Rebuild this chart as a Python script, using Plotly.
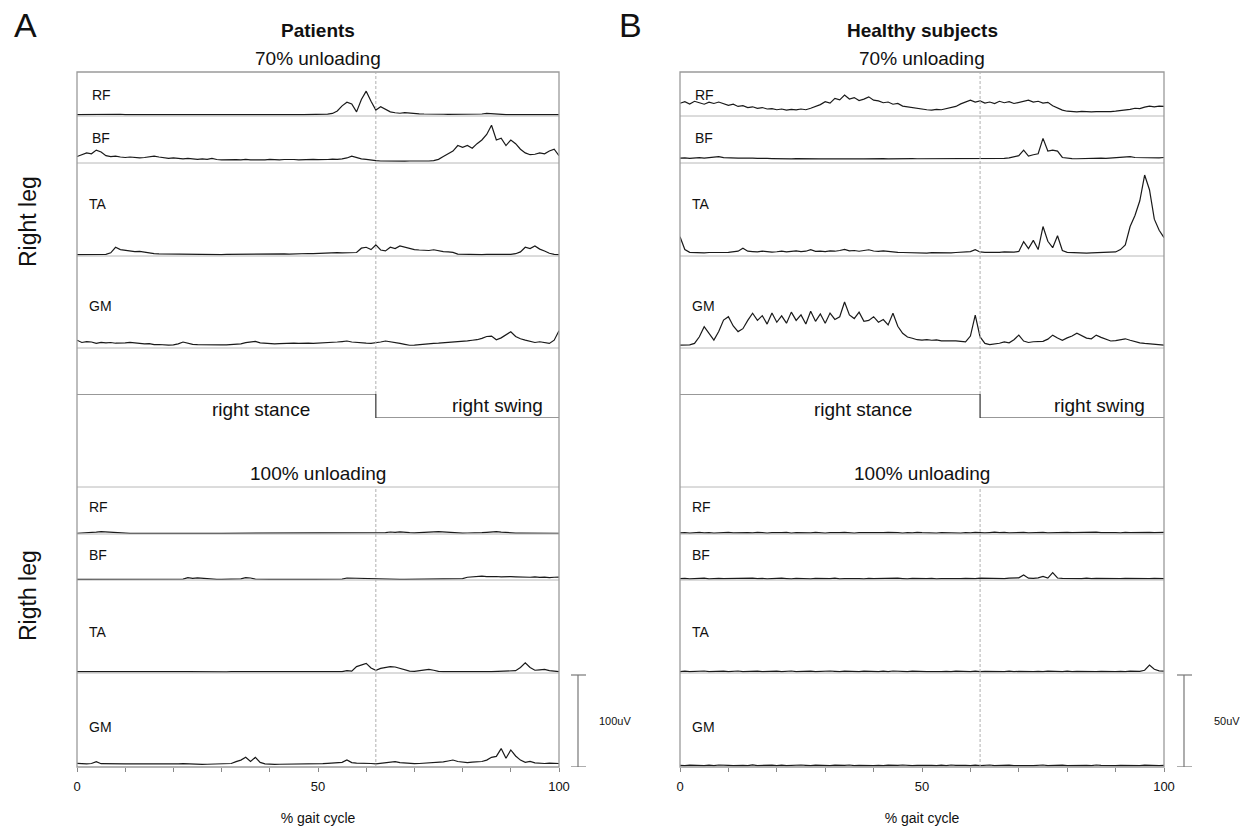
import plotly.graph_objects as go

W, H = 1243, 833
FONT = "Liberation Sans, Arial, sans-serif"

# ---------------- data ----------------
gait = list(range(101))  # % gait cycle
muscles = ["RF", "BF", "TA", "GM"]
toe_off = 62
stance_x = [0, 62, 62, 100]
stance_y = [1, 1, 0, 0]
x_tickvals = list(range(0, 101, 10))
x_ticktext = ["0", "", "", "", "", "50", "", "", "", "", "100"]

# Patients, 70% unloading (uV)
pat70_RF = [1.5,1.6,1.5,1.5,1.6,1.5,1.6,1.5,2.4,1.9,
            1.6,1.5,1.6,1.5,1.5,1.6,1.5,1.5,1.6,1.5,
            1.5,1.6,1.5,1.5,1.6,1.5,1.5,1.6,1.5,1.5,
            1.6,1.5,1.5,1.6,1.5,1.5,1.6,1.5,1.5,1.6,
            1.5,1.5,1.6,1.5,1.5,1.6,1.5,1.5,1.6,1.5,
            1.6,1.7,2.0,2.8,5.5,11.0,15.0,13.0,4.5,18.0,
            27.0,16.0,6.5,10.0,7.5,4.5,3.5,3.0,3.6,3.0,
            2.6,2.4,2.2,2.3,2.0,1.9,1.9,1.8,1.8,1.7,
            1.7,1.7,1.7,1.8,2.2,2.8,2.4,1.8,1.7,1.6,
            1.6,1.6,1.5,1.6,1.5,1.5,1.6,1.5,1.5,1.6,1.5]
pat70_BF = [7,9,11,10,14,12,8,7,7.5,6.5,
            6,6.5,6,5.5,6,6.5,7.5,6.5,5.5,5,
            5.5,5,4.5,5,4.5,4,4.5,4,5,3.8,
            3.5,3.8,3.3,3.6,3.3,4,3.5,3.4,3.8,3.5,
            4,3.6,3.5,3.8,4.2,3.8,3.5,3.9,3.6,4,
            3.7,3.5,3.8,4.2,3.9,4.5,5.5,7.5,6,4.5,
            4,3,2.5,2.2,2,2.2,2,2.1,2,2.2,
            2,2.1,2,2.2,2.5,4,7,10,13,19,
            17,19,16,21,25,31,41,25,27,19,
            25,21,15,11,9,9.5,11,10,13,15,8]
pat70_TA = [1.6,1.5,1.6,1.5,1.6,1.5,1.8,3.5,9.5,7.0,
            6.0,5.5,4.8,5.0,4.0,3.2,2.5,2.3,2.2,2.0,
            1.9,1.8,1.9,1.7,1.8,1.6,1.7,1.8,1.6,1.7,
            1.6,1.7,1.8,1.6,1.7,1.9,1.8,1.7,1.9,2.0,
            2.1,2.0,2.2,2.3,2.1,2.4,2.6,2.5,2.7,2.6,
            2.9,3.1,3.3,3.5,3.6,3.4,3.8,4.0,3.8,8.5,
            9.5,7.0,12.0,6.5,5.5,9.5,8.0,11.0,9.5,8.5,
            7.0,6.5,6.2,6.0,6.8,5.5,4.8,4.5,4.0,2.0,
            1.8,1.6,1.7,1.6,1.6,1.7,1.6,1.6,1.7,1.6,
            1.7,2.5,4.5,9.5,8.0,11.0,7.5,5.5,3.0,1.8,1.5]
pat70_GM = [8.5,6.0,7.0,6.5,5.0,6.2,5.5,6.0,5.2,5.0,
            5.6,6.2,5.4,5.0,4.5,4.8,3.6,3.8,3.4,3.2,
            3.5,4.5,6.5,5.0,4.0,3.6,3.4,3.3,3.5,3.2,
            3.4,3.3,3.6,3.5,4.5,5.8,6.5,7.2,5.5,5.0,
            4.8,4.5,4.8,5.0,5.5,5.2,5.0,5.4,5.2,5.0,
            5.2,5.5,5.8,6.0,6.5,7.0,7.6,6.5,5.8,5.5,
            5.2,5.0,5.5,6.5,7.6,7.0,5.8,5.0,4.0,3.0,
            3.2,3.8,4.2,4.5,5.0,5.2,5.5,5.8,6.5,7.2,
            7.5,7.8,8.4,9.0,10.5,12.5,13.0,9.0,11.0,14.0,
            17.7,12.5,10.0,8.5,7.5,6.0,6.8,5.5,5.0,8.5,18.8]

# Patients, 100% unloading (uV)
pat100_RF = [0.8,0.9,1.2,1.6,2.0,2.5,2.2,1.5,1.0,0.8,
             0.7,0.7,0.8,0.7,0.7,0.8,0.7,0.7,0.8,0.7,
             0.7,0.8,0.7,0.7,0.7,0.8,0.7,0.7,0.8,0.7,
             0.7,0.7,0.8,0.7,0.7,0.8,0.7,0.7,0.7,0.8,
             0.7,0.7,0.8,0.7,0.7,0.7,0.8,0.7,0.7,0.8,
             0.7,0.7,0.8,0.7,0.7,0.8,0.7,0.8,0.9,0.8,
             0.9,0.8,1.0,1.2,1.5,2.2,1.8,2.4,1.6,1.4,
             1.2,1.3,1.5,1.8,2.4,2.6,2.2,1.5,1.2,1.0,
             1.0,1.1,1.0,1.2,1.4,1.8,2.4,2.6,2.0,1.5,
             1.2,1.0,1.0,0.9,0.9,0.8,0.9,0.8,0.8,0.8,0.8]
pat100_BF = [0.7,0.7,0.7,0.8,0.7,0.7,0.7,0.8,0.7,0.7,
             0.7,0.8,0.7,0.7,0.7,0.7,0.8,0.7,0.7,0.7,
             0.7,0.8,1.0,2.5,1.8,2.4,2.0,0.9,0.7,0.7,
             0.7,0.7,0.8,0.7,1.2,2.5,2.2,1.0,0.7,0.7,
             0.7,0.7,0.8,0.7,0.7,0.7,0.8,0.7,0.7,0.7,
             0.7,0.8,0.7,0.7,0.8,1.0,2.2,2.0,2.5,1.8,
             2.2,1.5,1.0,0.8,0.7,0.7,0.8,0.7,0.7,0.7,
             0.8,0.7,0.7,0.7,0.8,0.7,0.7,0.8,0.7,0.8,
             1.5,3.0,3.4,3.8,4.2,3.6,4.0,3.8,3.5,3.8,
             3.6,3.4,3.2,3.6,3.0,3.4,2.8,3.2,2.6,3.0,3.2]
pat100_TA = [1.4,1.6,1.8,1.5,1.4,1.4,1.3,1.4,1.4,1.3,
             1.4,1.3,1.4,1.5,1.4,1.3,1.4,1.4,1.3,1.4,
             1.4,1.3,1.4,1.4,1.3,1.4,1.5,1.4,1.3,1.4,
             1.4,1.3,1.4,1.4,1.5,1.4,1.3,1.4,1.4,1.3,
             1.4,1.4,1.3,1.4,1.5,1.4,1.4,1.3,1.4,1.4,
             1.4,1.4,1.5,1.4,1.5,1.6,2.5,2.0,7.0,9.0,
             10.5,5.5,3.0,5.0,6.0,7.0,6.5,5.0,3.5,2.0,
             1.8,2.5,3.5,4.0,3.0,1.8,1.5,1.4,1.4,1.3,
             1.4,1.3,1.4,1.4,1.3,1.4,1.4,1.5,1.4,1.6,
             1.8,2.5,6.0,11.0,6.0,3.0,3.5,4.0,2.5,1.6,1.4]
pat100_GM = [4.0,3.5,3.5,3.8,5.8,3.6,3.4,3.3,3.5,3.3,
             3.4,3.3,3.2,3.4,3.3,3.2,3.4,3.5,3.3,3.2,
             3.2,3.4,3.6,3.3,3.0,3.0,2.9,3.0,3.0,3.1,
             3.0,3.2,3.8,5.8,7.5,10.5,6.0,10.5,5.0,3.5,
             3.0,2.9,3.0,3.0,3.1,3.0,3.2,3.4,3.6,3.5,
             3.8,3.6,4.0,4.2,4.5,5.0,7.6,4.8,4.2,3.8,
             3.6,3.8,3.5,4.0,4.5,5.0,5.8,4.8,4.2,3.8,
             3.6,3.8,4.0,4.4,4.6,5.0,5.5,6.5,7.6,6.0,
             5.0,4.8,5.2,5.5,6.0,7.5,10.5,11.5,20.0,9.5,
             18.5,12.0,7.5,5.0,6.0,4.5,4.0,3.8,4.2,3.6,3.8]

# Healthy subjects, 70% unloading (uV)
hea70_RF = [6.9,7.8,6.5,8.0,7.2,6.4,7.5,6.8,7.6,6.6,
            5.8,6.4,5.2,5.6,4.6,5.0,4.2,4.6,3.8,4.0,
            3.4,3.8,3.2,3.6,3.3,3.8,3.4,4.2,5.0,6.2,
            7.8,7.0,9.6,8.8,11.4,9.2,10.0,8.4,9.2,10.4,
            8.6,8.2,7.2,7.6,6.4,6.8,5.4,5.0,4.6,3.8,
            3.6,3.4,3.2,3.6,3.4,4.0,4.6,5.2,6.6,7.4,
            8.6,7.6,8.2,7.0,7.6,6.8,8.0,7.2,7.8,6.8,
            7.4,8.0,8.6,7.6,8.0,7.0,7.4,5.6,4.2,3.2,
            2.6,2.4,2.2,2.5,2.3,2.2,2.4,2.3,2.5,2.4,
            2.6,2.8,3.2,3.6,4.2,4.0,4.8,5.4,5.0,5.4,5.2]
hea70_BF = [2.6,2.8,2.5,2.7,2.9,2.6,2.8,3.0,3.5,2.9,
            2.7,2.5,2.7,2.6,2.4,2.6,2.5,2.3,2.5,2.4,
            2.3,2.5,2.4,2.2,2.4,2.3,2.2,2.4,2.3,2.2,
            2.2,2.4,2.3,2.2,2.3,2.2,2.4,2.3,2.2,2.3,
            2.2,2.3,2.4,2.2,2.3,2.4,2.3,2.2,2.4,2.3,
            2.3,2.4,2.3,2.5,2.4,2.3,2.5,2.4,2.6,2.5,
            2.6,2.5,2.7,2.6,2.5,2.7,2.6,2.5,2.8,3.2,
            4.0,7.0,3.8,4.5,5.0,13.4,6.5,7.0,6.5,3.0,
            2.6,2.4,2.3,2.4,2.3,2.5,2.4,2.6,2.5,2.7,
            2.8,3.0,3.2,3.5,3.0,2.9,2.8,3.0,2.9,2.8,3.0]
hea70_TA = [10.5,3.5,2.0,1.8,1.9,1.7,1.9,1.8,2.0,1.9,
            2.0,2.2,2.6,4.2,2.6,2.4,2.2,2.6,2.3,2.1,
            2.3,2.6,2.2,2.5,2.8,2.4,2.6,3.4,2.5,2.7,
            2.4,2.8,2.6,3.0,3.6,2.8,3.0,2.6,2.9,3.4,
            2.7,2.5,2.8,2.4,2.2,2.0,1.9,1.8,1.7,1.8,
            1.7,1.6,1.8,1.7,1.6,1.8,1.7,1.9,2.0,2.2,
            2.4,3.4,2.2,2.0,1.9,2.1,2.0,2.2,2.0,2.1,
            2.5,7.8,4.0,8.5,3.5,16.0,8.0,4.5,11.0,3.0,
            2.0,1.8,1.7,1.8,1.6,1.7,1.8,1.7,1.8,1.9,
            2.2,3.5,6.0,16.0,22.0,30.0,44.0,36.0,20.0,14.0,10.0]
hea70_GM = [1.6,1.8,1.7,2.5,6.1,11.6,8.0,4.3,9.0,15.2,
            17.0,12.0,8.9,10.5,15.0,18.9,15.0,17.6,13.0,19.0,
            14.0,17.5,13.5,19.5,15.0,18.0,13.0,20.0,14.5,18.5,
            13.5,19.0,15.5,17.0,25.0,18.0,16.0,19.5,14.5,15.0,
            17.0,14.0,15.5,12.5,18.9,11.8,8.0,6.0,5.3,4.5,
            4.3,4.6,4.2,4.4,3.9,4.0,3.7,3.9,3.6,3.3,
            6.5,17.9,6.0,2.5,1.8,2.0,2.6,3.3,2.8,4.5,
            7.0,3.8,3.0,3.4,3.3,3.6,4.8,7.0,5.4,4.2,
            5.5,6.5,8.0,6.5,5.4,5.0,7.0,5.8,4.6,3.8,
            4.0,4.4,5.0,4.2,3.3,2.8,2.5,2.2,1.8,1.7,1.6]

# Healthy subjects, 100% unloading (uV)
hea100_RF = [0.6,0.8,0.5,0.7,0.9,0.6,0.8,0.5,0.7,0.6,
             0.9,0.6,0.7,0.5,0.8,0.6,0.9,0.7,0.5,0.8,
             0.6,0.7,0.9,0.5,0.7,0.6,0.8,0.6,0.9,0.7,
             0.5,0.8,0.6,0.7,0.9,0.6,0.5,0.8,0.7,0.6,
             0.8,0.5,0.7,0.9,0.6,0.7,0.5,0.8,0.6,0.9,
             0.7,0.6,0.8,0.5,0.7,0.6,0.9,0.7,0.5,0.8,
             0.6,0.9,0.7,0.6,0.8,1.0,0.7,0.9,0.6,0.8,
             0.7,0.9,0.6,0.8,0.7,0.9,0.6,0.7,0.8,0.6,
             0.9,0.7,0.8,0.6,0.9,0.7,1.0,0.8,0.9,0.7,
             0.8,0.6,0.9,0.7,0.8,1.0,0.7,0.9,0.8,1.0,0.9]
hea100_BF = [0.7,0.9,0.6,0.8,0.7,1.0,0.6,0.8,0.9,0.7,
             0.8,0.6,0.9,0.7,0.8,1.0,0.7,0.9,0.6,0.8,
             0.7,1.0,0.8,0.6,0.9,0.7,0.8,0.6,0.9,0.7,
             0.8,0.7,1.0,0.6,0.8,0.9,0.7,0.8,0.6,0.9,
             0.7,0.8,0.6,0.9,0.7,1.0,0.8,0.6,0.9,0.7,
             0.8,0.7,0.9,0.6,0.8,0.7,1.0,0.8,0.7,0.9,
             0.7,0.8,1.0,0.9,0.7,0.8,0.9,0.7,1.0,0.9,
             1.2,2.7,1.0,0.9,1.2,2.0,1.0,4.0,1.1,0.9,
             0.8,0.9,0.7,0.8,1.0,0.7,0.9,0.8,0.7,0.9,
             0.8,0.7,0.9,0.8,0.7,0.9,0.8,0.7,0.9,0.8,0.8]
hea100_TA = [0.8,1.0,0.7,0.9,0.8,1.1,0.7,0.9,0.8,1.0,
             0.7,0.9,1.1,0.8,0.9,0.7,1.0,0.8,0.9,0.7,
             1.0,0.8,0.9,1.1,0.7,0.9,0.8,1.0,0.7,0.9,
             0.8,1.1,0.9,0.7,1.0,0.8,0.9,0.7,1.0,0.8,
             0.9,0.7,1.0,0.8,1.1,0.9,0.7,0.8,1.0,0.8,
             0.9,0.7,0.8,1.0,0.8,0.9,0.7,1.0,0.8,0.9,
             0.8,1.0,0.7,0.9,0.8,1.1,0.9,0.8,1.0,0.7,
             0.9,0.8,1.0,0.8,0.9,0.7,1.0,0.8,0.9,0.8,
             1.0,0.7,0.9,0.8,1.0,0.8,0.7,0.9,0.8,1.0,
             0.8,0.9,0.7,1.0,0.8,0.9,1.5,4.3,2.0,1.2,1.0]
hea100_GM = [0.9,0.7,1.0,0.8,0.9,0.7,1.0,0.8,1.1,0.8,
             0.9,0.7,1.0,0.9,0.7,1.1,0.8,0.9,0.7,1.0,
             0.8,1.0,0.7,0.9,0.8,1.1,0.9,0.7,1.0,0.8,
             0.9,0.7,1.0,0.8,0.9,1.1,0.7,0.9,0.8,1.0,
             0.8,0.9,0.7,1.0,0.8,0.9,1.1,0.8,0.7,0.9,
             1.0,0.8,0.9,0.7,1.0,0.8,1.1,0.9,0.7,0.9,
             0.8,1.0,0.7,0.9,1.1,0.8,0.9,0.7,1.0,0.8,
             0.9,1.0,0.8,0.7,0.9,1.1,0.8,0.9,0.7,1.0,
             0.8,0.9,1.0,0.7,0.9,0.8,1.1,0.9,0.8,1.0,
             0.7,0.9,0.8,1.0,0.9,0.7,1.0,0.8,0.9,0.8,0.9]

# ---------------- layout (pixels) ----------------
ROWS = [(72, 116), (116, 163), (163, 256), (256, 348),     # 70% unloading
        (487, 534), (534, 580), (580, 673), (673, 767)]    # 100% unloading
STANCE_ROW = (394, 418)
BOX_TOP, BOX_BOT = 72, 767
LABEL_Y = [95, 138, 204, 306, 507, 555, 632, 727]
LABEL_DX = [13, 13, 10, 10, 10, 10, 10, 10]

TRACE_COL = "#1a1a1a"
BOX_COL = "#9a9a9a"
SEP_COL = "#b8b8b8"
DASH_COL = "#b0b0b0"


def px(x):
    return x / W


def py(y):
    return 1 - y / H


def yname(i):
    return "yaxis" if i == 1 else f"yaxis{i}"


def yref(i):
    return "y" if i == 1 else f"y{i}"


panels = [
    dict(letter="A", letter_x=25, title="Patients", x0=77, x1=559, px_per_uv=0.92,
         bar_uv=100, bar_label="100uV", bar_x=578, bar_label_x=597, xname="x", xkey="xaxis",
         series=[pat70_RF, pat70_BF, pat70_TA, pat70_GM,
                 pat100_RF, pat100_BF, pat100_TA, pat100_GM],
         stance_pos=38.2, swing_pos=87.2),
    dict(letter="B", letter_x=630, title="Healthy subjects", x0=680, x1=1164, px_per_uv=1.84,
         bar_uv=50, bar_label="50uV", bar_x=1184, bar_label_x=1212, xname="x2", xkey="xaxis2",
         series=[hea70_RF, hea70_BF, hea70_TA, hea70_GM,
                 hea100_RF, hea100_BF, hea100_TA, hea100_GM],
         stance_pos=37.9, swing_pos=86.7),
]

fig = go.Figure()
layout = dict(width=W, height=H, margin=dict(l=0, r=0, t=0, b=0),
              paper_bgcolor="white", plot_bgcolor="white", showlegend=False,
              font=dict(family=FONT, color="#111111"))
shapes, annotations = [], []

for p, pan in enumerate(panels):
    base = p * 9
    xd = [px(pan["x0"]), px(pan["x1"])]
    cx = (pan["x0"] + pan["x1"]) / 2
    bottom_axis = base + 8
    # EMG rows
    for r, ((top, bot), vals) in enumerate(zip(ROWS, pan["series"])):
        ai = base + r + 1
        layout[yname(ai)] = dict(domain=[py(bot), py(top)],
                                 range=[0, (bot - top) / pan["px_per_uv"]],
                                 visible=False, fixedrange=True, anchor=pan["xname"])
        fig.add_trace(go.Scatter(x=gait, y=vals, mode="lines", xaxis=pan["xname"],
                                 yaxis=yref(ai), line=dict(color=TRACE_COL, width=1.2),
                                 hoverinfo="skip", showlegend=False))
        annotations.append(dict(text=muscles[r % 4], xref="paper", yref="paper",
                                x=px(pan["x0"] + LABEL_DX[r]), y=py(LABEL_Y[r]),
                                xanchor="left", yanchor="middle", showarrow=False,
                                font=dict(size=14)))
        if r != 0:
            shapes.append(dict(type="line", xref=pan["xname"], x0=0, x1=100,
                               yref=f"{yref(ai)} domain", y0=1, y1=1,
                               line=dict(color=SEP_COL, width=1)))
        if r == 3:
            shapes.append(dict(type="line", xref=pan["xname"], x0=0, x1=100,
                               yref=f"{yref(ai)} domain", y0=0, y1=0,
                               line=dict(color=SEP_COL, width=1)))
    # stance / swing axis
    si = base + 9
    layout[yname(si)] = dict(domain=[py(STANCE_ROW[1]), py(STANCE_ROW[0])], range=[0, 1],
                             visible=False, fixedrange=True, anchor=pan["xname"])
    fig.add_trace(go.Scatter(x=stance_x, y=stance_y, mode="lines", xaxis=pan["xname"],
                             yaxis=yref(si), line=dict(color="#333333", width=1.2),
                             hoverinfo="skip", showlegend=False))
    # x axis
    layout[pan["xkey"]] = dict(domain=xd, range=[0, 100], anchor=yref(bottom_axis),
                               tickvals=x_tickvals, ticktext=x_ticktext, ticks="outside",
                               ticklen=4, tickcolor="#888888", tickwidth=1,
                               showline=False, showgrid=False, zeroline=False,
                               fixedrange=True, automargin=False,
                               tickfont=dict(size=13, color="#111111"),
                               ticklabelstandoff=3,
                               title=dict(text="% gait cycle", font=dict(size=14),
                                          standoff=20))
    # outer box
    shapes.append(dict(type="rect", xref="paper", yref="paper",
                       x0=xd[0], x1=xd[1], y0=py(BOX_BOT), y1=py(BOX_TOP),
                       line=dict(color=BOX_COL, width=1.3), fillcolor="rgba(0,0,0,0)"))
    # toe-off dashed line
    for (t0, t1) in [(BOX_TOP, STANCE_ROW[0]), (ROWS[4][0], BOX_BOT)]:
        shapes.append(dict(type="line", xref=pan["xname"], x0=toe_off, x1=toe_off,
                           yref="paper", y0=py(t1), y1=py(t0),
                           line=dict(color=DASH_COL, width=1, dash="3px,2px")))
    # scale bar
    bar_ref = yref(base + 8)
    shapes.append(dict(type="line", xref="paper", x0=px(pan["bar_x"]), x1=px(pan["bar_x"]),
                       yref=bar_ref, y0=0, y1=pan["bar_uv"],
                       line=dict(color="#777777", width=1.2)))
    for yv in (0, pan["bar_uv"]):
        shapes.append(dict(type="line", xref="paper", x0=px(pan["bar_x"] - 7),
                           x1=px(pan["bar_x"] + 8), yref=bar_ref, y0=yv, y1=yv,
                           line=dict(color="#777777", width=1.2)))
    annotations.append(dict(text=pan["bar_label"], xref="paper", yref=bar_ref,
                            x=px(pan["bar_label_x"]), y=pan["bar_uv"] / 2,
                            xanchor="left", yanchor="middle", showarrow=False,
                            font=dict(size=11, color="#111111")))
    # texts
    annotations += [
        dict(text=pan["letter"], xref="paper", yref="paper", x=px(pan["letter_x"]), y=py(25),
             xanchor="center", yanchor="middle", showarrow=False, font=dict(size=34)),
        dict(text=f"<b>{pan['title']}</b>", xref="paper", yref="paper", x=px(cx), y=py(30),
             xanchor="center", yanchor="middle", showarrow=False, font=dict(size=19)),
        dict(text="70% unloading", xref="paper", yref="paper", x=px(cx), y=py(58),
             xanchor="center", yanchor="middle", showarrow=False, font=dict(size=19)),
        dict(text="100% unloading", xref="paper", yref="paper", x=px(cx), y=py(473),
             xanchor="center", yanchor="middle", showarrow=False, font=dict(size=19)),
        dict(text="right stance", xref=pan["xname"], yref="paper", x=pan["stance_pos"], y=py(410),
             xanchor="center", yanchor="middle", showarrow=False, font=dict(size=19)),
        dict(text="right swing", xref=pan["xname"], yref="paper", x=pan["swing_pos"], y=py(405),
             xanchor="center", yanchor="middle", showarrow=False, font=dict(size=19)),
    ]

annotations += [
    dict(text="Right leg", xref="paper", yref="paper", x=px(28), y=py(222), textangle=-90,
         xanchor="center", yanchor="middle", showarrow=False, font=dict(size=23)),
    dict(text="Rigth leg", xref="paper", yref="paper", x=px(28), y=py(596), textangle=-90,
         xanchor="center", yanchor="middle", showarrow=False, font=dict(size=23)),
]

layout["shapes"] = shapes
layout["annotations"] = annotations
fig.update_layout(**layout)
fig.write_html("out.html", config={"displayModeBar": False},
               post_script="document.body.style.margin='0';document.body.style.overflow='hidden';")
